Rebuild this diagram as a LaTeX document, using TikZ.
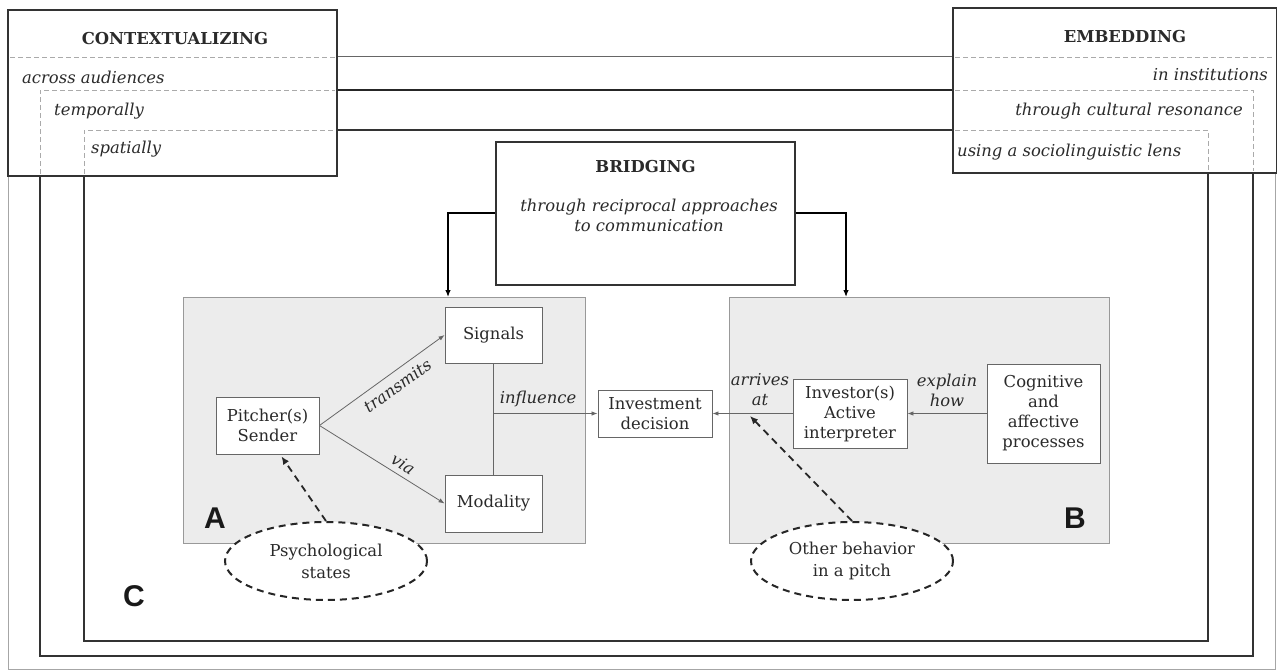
\documentclass[tikz,border=0pt]{standalone}
\usepackage{fontspec}
\setmainfont{DejaVu Serif}
\newfontfamily\lettfont{Liberation Sans}
\usetikzlibrary{shapes.geometric,arrows.meta,calc}
\definecolor{frame}{HTML}{333333}
\definecolor{boxline}{HTML}{666666}
\definecolor{panelfill}{HTML}{ECECEC}
\definecolor{panelline}{HTML}{999999}
\definecolor{dashgray}{HTML}{AAAAAA}
\definecolor{ink}{HTML}{2A2A2A}
\tikzset{
  itx/.style={font=\fontsize{16.4}{20}\selectfont\itshape, text=ink, inner sep=0pt, align=center},
  ttl/.style={font=\fontsize{16.4}{20}\selectfont\bfseries, text=ink, inner sep=0pt},
  bigbox/.style={draw=frame, line width=2.2pt, fill=none, inner sep=0pt},
  panel/.style={draw=panelline, line width=1pt, fill=panelfill, inner sep=0pt},
  wbox/.style={draw=boxline, line width=0.9pt, fill=white, inner sep=0pt, align=center, text=ink, font=\fontsize{16.4}{20}\selectfont},
  arr/.style={draw=boxline, line width=0.8pt, -{Latex[length=6pt,width=4.5pt]}},
  barr/.style={draw=black, line width=1.2pt, -{Latex[length=7pt,width=5.5pt]}},
  darr/.style={draw=black!85, line width=1.8pt, dash pattern=on 7pt off 5pt, -{Latex[length=8pt,width=7pt]}},
  oval/.style={ellipse, draw=black!85, line width=2pt, dash pattern=on 7pt off 5pt, fill=white, inner sep=0pt, align=center, text=ink, font=\fontsize{16.4}{22}\selectfont},
  inner dash/.style={draw=dashgray, line width=0.9pt, dash pattern=on 5pt off 3pt},
  letter/.style={font=\lettfont\bfseries\fontsize{30}{30}\selectfont, text=black!90, inner sep=0pt},
}
\begin{document}
\begin{tikzpicture}[x=1pt,y=-1pt]
\useasboundingbox (0,0) rectangle (1277,671);

% ---- nested frames (C) ----
\draw[draw=black!35, line width=0.9pt] (8,176) -- (8,669) -- (1275,669) -- (1275,173);
\draw[draw=frame, line width=2.2pt] (40,176) -- (40,656) -- (1253,656) -- (1253,173);
\draw[draw=frame, line width=1.6pt] (84,176) -- (84,641) -- (1208,641) -- (1208,173);

% ---- top boxes ----
\node[bigbox, minimum width=329pt, minimum height=166pt] (ctx) at (172.5,93) {};
\node[bigbox, minimum width=324pt, minimum height=165pt] (emb) at (1115,90.5) {};

% connecting lines
\draw[draw=black!60, line width=1pt] (ctx.east |- 0,57) -- (emb.west |- 0,57);
\draw[draw=black!85, line width=2.2pt] (ctx.east |- 0,90) -- (emb.west |- 0,90);
\draw[draw=black!80, line width=1.5pt] (ctx.east |- 0,130) -- (emb.west |- 0,130);

% dashed inner lines
\draw[inner dash] (10,57) -- (335,57);
\draw[inner dash] (40,174) -- (40,90) -- (335,90);
\draw[inner dash] (84,174) -- (84,130) -- (335,130);
\draw[inner dash] (955,57) -- (1274,57);
\draw[inner dash] (955,90) -- (1253,90) -- (1253,171);
\draw[inner dash] (955,130) -- (1208,130) -- (1208,171);

\node[ttl] (ctxt) at (175,39) {CONTEXTUALIZING};
\node[itx, anchor=west] (c1) at (22,77) {across audiences};
\node[itx, anchor=west] (c2) at (54,111) {temporally};
\node[itx, anchor=west] (c3) at (91,149) {spatially};

\node[ttl] (embt) at (1125,37) {EMBEDDING};
\node[itx, anchor=east] (e1) at (1268,75) {in institutions};
\node[itx, anchor=east] (e2) at (1243,111) {through cultural resonance};
\node[itx, anchor=west] (e3) at (957,152) {using a sociolinguistic lens};

% ---- bridging ----
\node[bigbox, line width=2.6pt, minimum width=299pt, minimum height=143pt] (bridge) at (645.5,213.5) {};
\node[ttl] (bridget) at (645.5,167) {BRIDGING};
\node[itx] (bridgei) at (649,215) {through reciprocal approaches\\to communication};

% ---- panels ----
\node[panel, minimum width=402pt, minimum height=246pt] (panelA) at (384,420) {};
\node[panel, minimum width=380pt, minimum height=246pt] (panelB) at (919,420) {};

\coordinate (aIn) at (448,297);
\coordinate (bIn) at (846,297);
\draw[barr] (bridge.west |- 0,213) -| (aIn);
\draw[barr] (bridge.east |- 0,213) -| (bIn);

% ---- boxes ----
\node[wbox, minimum width=97pt, minimum height=56pt] (signals) at (493.5,335) {Signals};
\node[wbox, minimum width=103pt, minimum height=57pt] (pitcher) at (267.5,425.5) {Pitcher(s)\\Sender};
\node[wbox, minimum width=97pt, minimum height=57pt] (modality) at (493.5,503.5) {Modality};
\node[wbox, minimum width=114pt, minimum height=47pt] (invest) at (655,413.5) {Investment\\decision};
\node[wbox, minimum width=114pt, minimum height=69pt] (investor) at (850,413.5) {Investor(s)\\Active\\interpreter};
\node[wbox, minimum width=113pt, minimum height=99pt] (cognitive) at (1043.5,413.5) {Cognitive\\and\\affective\\processes};

% ---- connectors ----
\draw[arr] (pitcher.east) -- node[itx, sloped, below=7pt, pos=0.56] (ltrans) {transmits} (signals.west);
\draw[arr] (pitcher.east) -- node[itx, sloped, above=5pt, pos=0.62] (lvia) {via} (modality.west);
\draw[draw=boxline, line width=0.8pt] (signals.south) -- (modality.north);
\coordinate (inf) at (signals.south |- invest.west);
\draw[arr] (inf) -- (invest.west);
\node[itx, anchor=south] (linf) at (538,407) {influence};
\draw[arr] (investor.west) -- (invest.east);
\draw[arr] (cognitive.west) -- (investor.east);
\node[itx] (larr) at (760,390) {arrives\\at};
\node[itx] (lexp) at (947,390) {explain\\how};

% ---- ellipses ----
\node[oval, minimum width=202pt, minimum height=78pt] (psy) at (326,561) {Psychological\\states};
\node[oval, minimum width=202pt, minimum height=78pt] (other) at (852,561) {Other behavior\\in a pitch};
\coordinate (pitchIn) at ($(pitcher.south)+(14,2)$);
\coordinate (arrIn) at (750,416);
\draw[darr] (psy.north) -- (pitchIn);
\draw[darr] (other.north) -- (arrIn);

% ---- letters ----
\node[letter] (la) at (215,518) {A};
\node[letter] (lb) at (1075,518) {B};
\node[letter] (lc) at (134,596) {C};
\end{tikzpicture}
\end{document}
